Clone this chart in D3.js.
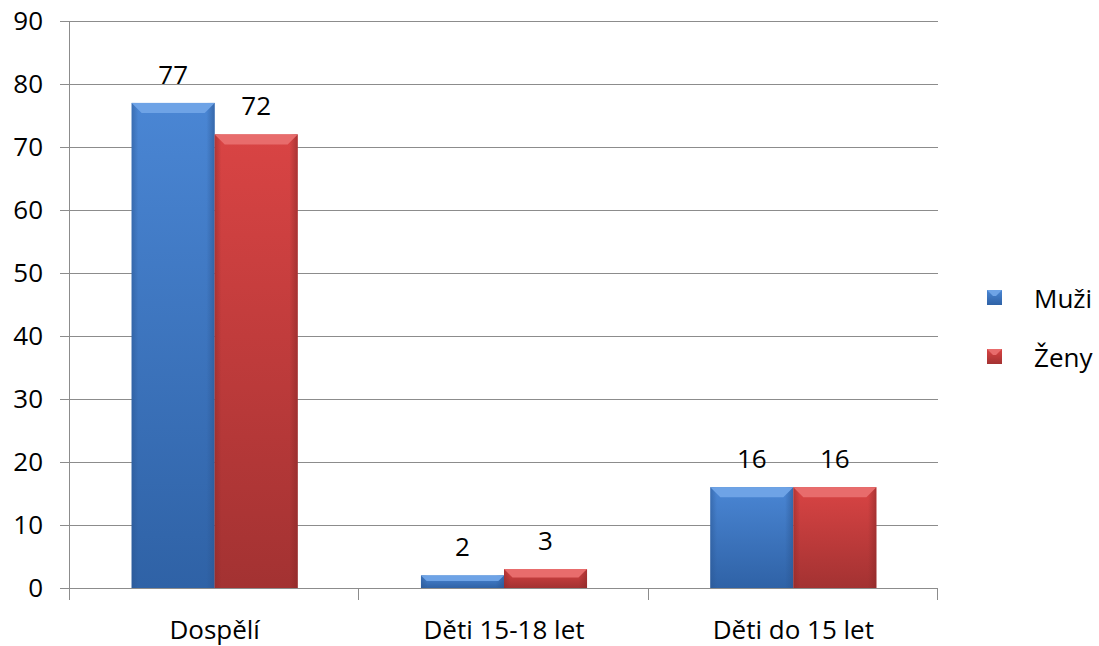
<!DOCTYPE html>
<html><head><meta charset="utf-8">
<script src="https://cdn.jsdelivr.net/npm/d3@7"></script>
<style>body{margin:0;background:#fff}svg{display:block}text{font-family:"Open Sans","Liberation Sans",sans-serif;fill:#000}</style>
</head><body><svg id="c" width="1099" height="646"></svg>
<script>
const categories = ["Dospělí", "Děti 15-18 let", "Děti do 15 let"];
const seriesNames = ["Muži", "Ženy"];
const muzi = [77, 2, 16];
const zeny = [72, 3, 16];
const yTicks = [0, 10, 20, 30, 40, 50, 60, 70, 80, 90];

(function () {
const values = [muzi, zeny];
const svg = d3.select("#c");
const pl = 70, pr = 938, pt = 21, pb = 588;
const fs = 26;
const y = d3.scaleLinear().domain([0, 90]).range([pb, pt]);
const x0 = d3.scaleBand().domain(categories).range([pl, pr]).padding(0);
const bw = x0.bandwidth();
const x1 = d3.scaleBand().domain(seriesNames).range([bw * 0.213, bw * 0.787]).padding(0);

const defs = svg.append("defs");
const pal = [
  {id: "b", top: "#4a86d4", bot: "#2f62a6", cap: "#6ea3e6", side: "#2a5590"},
  {id: "r", top: "#d94444", bot: "#a33232", cap: "#e86c6c", side: "#8a2828"}
];
pal.forEach(p => {
  const g = defs.append("linearGradient").attr("id", "g" + p.id).attr("x1", 0).attr("y1", 0).attr("x2", 0).attr("y2", 1);
  g.append("stop").attr("offset", "0%").attr("stop-color", p.top);
  g.append("stop").attr("offset", "100%").attr("stop-color", p.bot);
  const h = defs.append("linearGradient").attr("id", "h" + p.id).attr("x1", 0).attr("y1", 0).attr("x2", 1).attr("y2", 0);
  h.append("stop").attr("offset", "0%").attr("stop-color", p.side).attr("stop-opacity", 0.5);
  h.append("stop").attr("offset", "8%").attr("stop-color", p.side).attr("stop-opacity", 0);
  h.append("stop").attr("offset", "90%").attr("stop-color", p.side).attr("stop-opacity", 0);
  h.append("stop").attr("offset", "100%").attr("stop-color", p.side).attr("stop-opacity", 0.6);
});

svg.append("g").selectAll("line").data(yTicks).join("line")
  .attr("x1", pl - 10).attr("x2", pr)
  .attr("y1", d => y(d) + 0.5).attr("y2", d => y(d) + 0.5)
  .attr("stroke", "#8c8c8c").attr("stroke-width", 1);

svg.append("line").attr("x1", pl - 0.5).attr("x2", pl - 0.5).attr("y1", pt).attr("y2", pb + 12)
  .attr("stroke", "#8c8c8c");
svg.append("g").selectAll("line").data(categories.map(c => x0(c)).concat([pr])).join("line")
  .attr("x1", d => Math.round(d) - 0.5).attr("x2", d => Math.round(d) - 0.5)
  .attr("y1", pb).attr("y2", pb + 12).attr("stroke", "#8c8c8c");

svg.append("g").selectAll("text").data(yTicks).join("text")
  .attr("x", 43).attr("y", d => y(d) + 9).attr("text-anchor", "end")
  .attr("font-size", fs).text(d => d);

const groups = svg.append("g").selectAll("g").data(categories).join("g")
  .attr("transform", c => `translate(${x0(c)},0)`);
seriesNames.forEach((s, si) => {
  const p = pal[si];
  groups.each(function(c, ci) {
    const g = d3.select(this);
    const v = values[si][ci];
    const bx = x1(s), w = x1.bandwidth(), by = y(v), h = pb - by;
    g.append("rect").attr("x", bx).attr("y", by).attr("width", w).attr("height", h).attr("fill", `url(#g${p.id})`);
    g.append("rect").attr("x", bx).attr("y", by).attr("width", w).attr("height", h).attr("fill", `url(#h${p.id})`);
    const cap = Math.min(10, h * 0.45);
    g.append("path")
      .attr("d", `M${bx},${by}L${bx + w},${by}L${bx + w - cap},${by + cap}L${bx + cap},${by + cap}Z`)
      .attr("fill", p.cap);
    g.append("text").attr("x", bx + w / 2).attr("y", by - 19).attr("text-anchor", "middle")
      .attr("font-size", fs).text(v);
  });
});

svg.append("g").selectAll("text").data(categories).join("text")
  .attr("x", c => x0(c) + bw / 2).attr("y", 639).attr("text-anchor", "middle")
  .attr("font-size", fs).text(c => c);

const lg = svg.append("g");
seriesNames.forEach((s, i) => {
  const ly = 298 + i * 59;
  const p = pal[i];
  lg.append("rect").attr("x", 987).attr("y", ly - 8).attr("width", 15).attr("height", 15).attr("fill", `url(#g${p.id})`);
  lg.append("path").attr("d", `M987,${ly - 8}L1002,${ly - 8}L996,${ly - 2}L993,${ly - 2}Z`).attr("fill", p.cap);
  lg.append("text").attr("x", 1034).attr("y", ly + 10).attr("font-size", fs).text(s);
});
})();
</script></body></html>
